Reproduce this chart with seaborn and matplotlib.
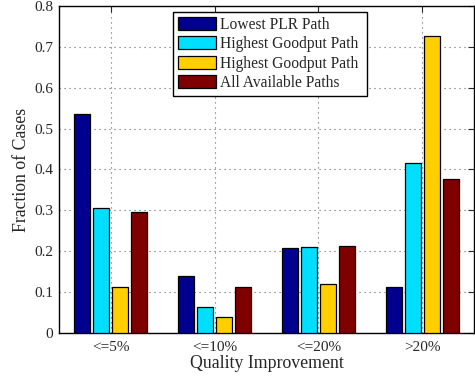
import matplotlib
matplotlib.use("Agg")
import matplotlib.pyplot as plt
import seaborn as sns
import pandas as pd

categories = ["<=5%", "<=10%", "<=20%", ">20%"]
series_names = ["Lowest PLR Path", "Highest Goodput Path",
                "Highest Goodput Path ", "All Available Paths"]
lowest_plr = [0.536, 0.140, 0.208, 0.113]
highest_goodput_a = [0.305, 0.064, 0.211, 0.415]
highest_goodput_b = [0.112, 0.040, 0.119, 0.727]
all_paths = [0.295, 0.113, 0.214, 0.376]
colors = ["#00008F", "#00DFFF", "#FFCF00", "#800000"]

rows = []
for name, vals in zip(series_names, [lowest_plr, highest_goodput_a,
                                     highest_goodput_b, all_paths]):
    for cat, v in zip(categories, vals):
        rows.append({"cat": cat, "series": name, "value": v})
df = pd.DataFrame(rows)

sns.set_style("white")
plt.rcParams["font.family"] = ["Liberation Serif", "DejaVu Serif"]

fig = plt.figure(figsize=(4.75, 3.77), dpi=100)
ax = fig.add_axes([0.124, 0.1167, 0.874, 0.8674])

sns.barplot(data=df, x="cat", y="value", hue="series", order=categories,
            hue_order=series_names, palette=colors, width=0.73, gap=0.16,
            edgecolor="black", linewidth=0.9, saturation=1, ax=ax, zorder=3)

ax.set_xlim(-0.5, 3.5)
ax.set_ylim(0, 0.8)
ax.set_yticks([0, 0.1, 0.2, 0.3, 0.4, 0.5, 0.6, 0.7, 0.8])
ax.set_yticklabels(["0", "0.1", "0.2", "0.3", "0.4", "0.5", "0.6", "0.7", "0.8"])
ax.set_xlabel("Quality Improvement", fontsize=12.8, labelpad=0.5)
ax.set_ylabel("Fraction of Cases", fontsize=12.8, labelpad=3)
ax.tick_params(axis="both", direction="in", labelsize=11, length=4,
               top=True, right=True, width=0.8, pad=4)
ax.tick_params(axis="x", pad=6)
ax.grid(True, linestyle=(0, (1, 3.5)), color="#666666", linewidth=0.8, zorder=0)
ax.set_axisbelow(True)
for s in ax.spines.values():
    s.set_linewidth(1.0)
    s.set_color("black")

leg = ax.legend(loc="upper left", bbox_to_anchor=(0.275, 0.982),
                borderaxespad=0, fontsize=11.2, handlelength=2.45,
                handleheight=0.95, handletextpad=0.25, labelspacing=0.22,
                borderpad=0.3, fancybox=False, framealpha=1,
                edgecolor="black")
leg.get_frame().set_linewidth(1.0)

fig.savefig("out.png", dpi=100)
